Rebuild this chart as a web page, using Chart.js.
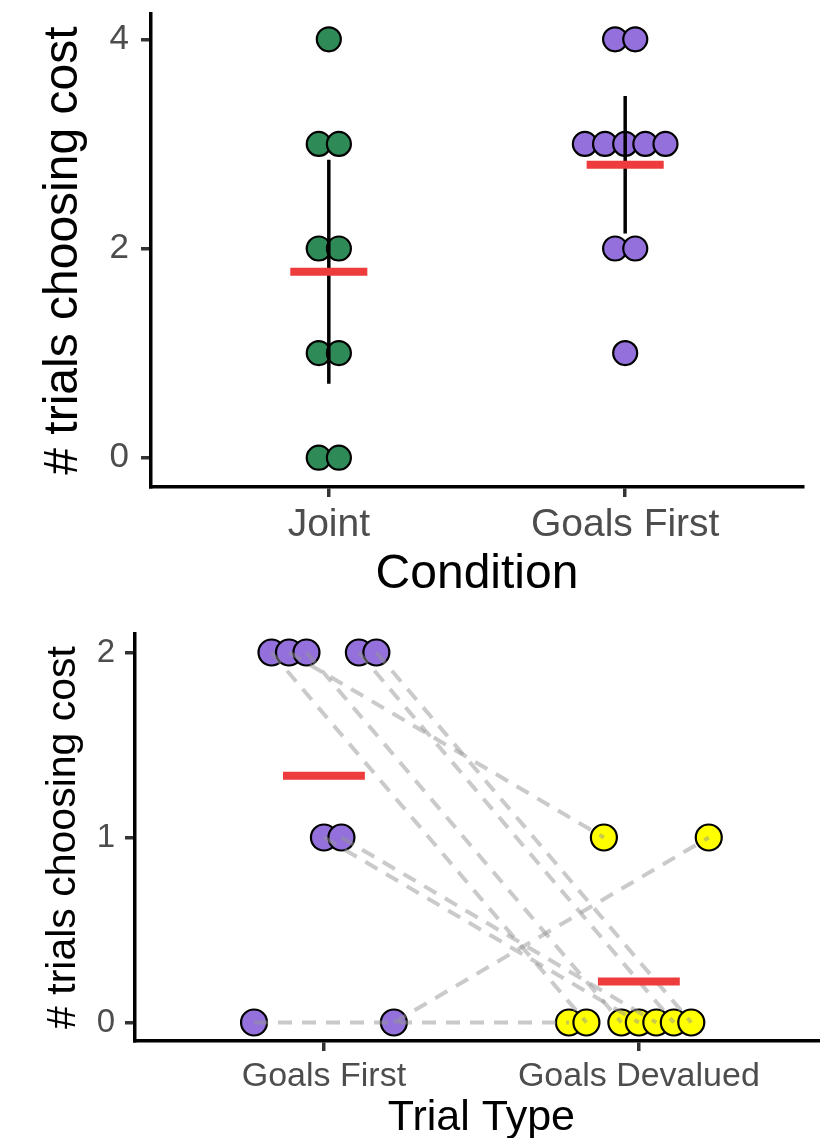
<!DOCTYPE html>
<html>
<head>
<meta charset="utf-8">
<script src="https://cdn.jsdelivr.net/npm/chart.js@4.4.1/dist/chart.umd.min.js"></script>
<style>
  html, body { margin: 0; padding: 0; background: #fff; overflow: hidden; }
  #wrap { position: relative; width: 820px; height: 1138px; overflow: hidden; }
  #top { position: absolute; left: 0; top: 0; }
  #bottom { position: absolute; left: 0; top: 600px; }
</style>
</head>
<body>
<div id="wrap">
  <canvas id="top" width="820" height="610"></canvas>
  <canvas id="bottom" width="843" height="548"></canvas>
</div>
<script>
// top panel: one score per participant
const conditions = ["Joint", "Goals First"];
const jointScores = [4, 3, 3, 2, 2, 1, 1, 0, 0];
const goalsFirstScores = [4, 4, 3, 3, 3, 3, 3, 2, 2, 1];
const yTicksTop = [0, 2, 4];
const tCrit = [2.306, 2.262]; // t(.975), df 8 and 9

// bottom panel: paired scores, same participant at the same index
const trialTypes = ["Goals First", "Goals Devalued"];
const pairedGoalsFirst = [0, 2, 2, 2, 1, 1, 2, 2, 0];
const pairedGoalsDevalued = [0, 0, 1, 0, 0, 0, 0, 0, 1];
const yTicksBottom = [0, 1, 2];

const FONT = "'Liberation Sans', Arial, sans-serif";
const GRAY = "#4d4d4d";
const RED = "#ee3b3b";
const GREEN = "#2e8b57";
const PURPLE = "#9370db";
const YELLOW = "#ffff00";

function mean(a) { return a.reduce((s, v) => s + v, 0) / a.length; }
function ci(a, t) {
  const m = mean(a);
  const sd = Math.sqrt(a.reduce((s, v) => s + (v - m) * (v - m), 0) / (a.length - 1));
  return t * sd / Math.sqrt(a.length);
}

// centred dot stacks (like a dotplot)
function stackDots(scores, cx, step) {
  const counts = {};
  scores.forEach(v => { counts[v] = (counts[v] || 0) + 1; });
  const pts = [];
  Object.keys(counts).forEach(k => {
    const n = counts[k];
    for (let i = 0; i < n; i++) pts.push({ x: cx + (i - (n - 1) / 2) * step, y: +k });
  });
  return pts;
}

function xAxis(labels, o) {
  return {
    type: "linear", min: 0.4, max: 2.6,
    afterFit: s => { s.height = o.height; s.paddingLeft = 0; s.paddingRight = 0; },
    afterBuildTicks: s => { s.ticks = [{ value: 1 }, { value: 2 }]; },
    border: { display: true, color: "#000", width: 3.5 },
    grid: { drawOnChartArea: false, drawTicks: true, tickLength: 10, color: "#333", lineWidth: 3.5 },
    ticks: { color: GRAY, font: { family: FONT, size: o.tickSize }, padding: o.tickPad,
      maxRotation: 0, autoSkip: false, callback: v => labels[Math.round(v) - 1] },
    title: { display: true, text: o.title, color: "#000", font: { family: FONT, size: o.titleSize },
      padding: { top: 0, bottom: o.titlePad } }
  };
}

function yAxis(tickVals, o) {
  return {
    type: "linear", min: o.min, max: o.max,
    afterFit: s => { s.width = o.width; s.paddingTop = 0; s.paddingBottom = 0; },
    afterBuildTicks: s => { s.ticks = tickVals.map(v => ({ value: v })); },
    border: { display: true, color: "#000", width: 3.5 },
    grid: { drawOnChartArea: false, drawTicks: true, tickLength: 10, color: "#333", lineWidth: 3.5 },
    ticks: { color: GRAY, font: { family: FONT, size: o.tickSize }, padding: o.tickPad },
    title: { display: true, text: "# trials choosing cost", color: "#000",
      font: { family: FONT, size: o.titleSize }, padding: { top: o.titlePad, bottom: 0 } }
  };
}

function segment(p1, p2, color, width, order, dash) {
  return { data: [p1, p2], showLine: true, borderColor: color, borderWidth: width,
    borderDash: dash || [], borderCapStyle: "butt", pointRadius: 0, order: order };
}

function dots(pts, color, r, order) {
  return { data: pts, pointRadius: r, pointBackgroundColor: color, pointBorderColor: "#000",
    pointBorderWidth: 2.2, order: order };
}

const common = {
  responsive: false, animation: false, events: [],
  plugins: { legend: { display: false }, tooltip: { enabled: false } }
};

// ---- top chart
const topScores = [jointScores, goalsFirstScores];
const meansTop = topScores.map(mean);
const ciTop = topScores.map((a, i) => ci(a, tCrit[i]));

new Chart(document.getElementById("top"), {
  type: "scatter",
  data: {
    datasets: [
      ...meansTop.map((m, i) => segment({ x: i + 0.87, y: m }, { x: i + 1.13, y: m }, RED, 8, 0)),
      ...meansTop.map((m, i) => segment({ x: i + 1, y: m - ciTop[i] }, { x: i + 1, y: m + ciTop[i] }, "#000", 3.5, 1)),
      dots(stackDots(jointScores, 1, 0.068), GREEN, 12, 2),
      dots(stackDots(goalsFirstScores, 2, 0.068), PURPLE, 12, 2)
    ]
  },
  options: {
    ...common,
    layout: { padding: { left: 0, right: 17, top: 11, bottom: 0 } },
    scales: {
      x: xAxis(conditions, { height: 123, tickSize: 39, tickPad: 5, title: "Condition", titleSize: 48, titlePad: 6 }),
      y: yAxis(yTicksTop, { min: -0.28, max: 4.24, width: 151, tickSize: 35, tickPad: 12, titleSize: 48, titlePad: 35 })
    }
  }
});

// ---- bottom chart
const n = pairedGoalsFirst.length;
const dodge = i => (i - (n - 1) / 2) * 0.0555;
const meansBottom = [mean(pairedGoalsFirst), mean(pairedGoalsDevalued)];

new Chart(document.getElementById("bottom"), {
  type: "scatter",
  data: {
    datasets: [
      ...meansBottom.map((m, i) => segment({ x: i + 0.87, y: m }, { x: i + 1.13, y: m }, RED, 8, 0)),
      ...pairedGoalsFirst.map((v, i) => segment({ x: 1 + dodge(i), y: v }, { x: 2 + dodge(i), y: pairedGoalsDevalued[i] },
        "rgba(150,150,150,0.5)", 4, 1, [14, 10])),
      dots(pairedGoalsFirst.map((v, i) => ({ x: 1 + dodge(i), y: v })), PURPLE, 13, 2),
      dots(pairedGoalsDevalued.map((v, i) => ({ x: 2 + dodge(i), y: v })), YELLOW, 13, 2)
    ]
  },
  options: {
    ...common,
    layout: { padding: { left: 0, right: 2, top: 34, bottom: 0 } },
    scales: {
      x: xAxis(trialTypes, { height: 107, tickSize: 34, tickPad: 5, title: "Trial Type", titleSize: 43, titlePad: 4 }),
      y: yAxis(yTicksBottom, { min: -0.1, max: 2.1, width: 135, tickSize: 33, tickPad: 10, titleSize: 41, titlePad: 39 })
    }
  }
});
</script>
</body>
</html>
